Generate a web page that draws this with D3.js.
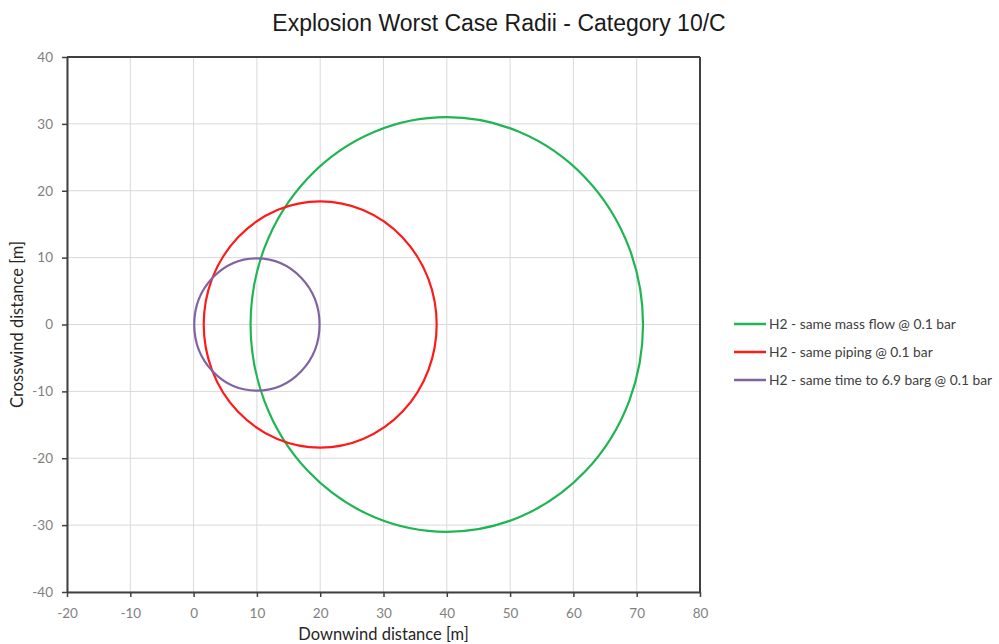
<!DOCTYPE html>
<html>
<head>
<meta charset="utf-8">
<script src="https://cdn.jsdelivr.net/npm/d3@7"></script>
<style>
  body { margin: 0; background: #fff; }
</style>
</head>
<body>
<div id="chart"></div>
<script>
// series: circles given by centre (downwind, crosswind) and radius
var seriesNames = ["H2 - same mass flow @ 0.1 bar", "H2 - same piping @ 0.1 bar", "H2 - same time to 6.9 barg @ 0.1 bar"];
var seriesColors = ["#1fb553", "#ff1a1a", "#8064a2"];
var centerX = [40, 20, 10];
var centerY = [0, 0, 0];
var radii = [31, 18.4, 9.9];
var xTicks = [-20, -10, 0, 10, 20, 30, 40, 50, 60, 70, 80];
var yTicks = [-40, -30, -20, -10, 0, 10, 20, 30, 40];

var W = 999, H = 644;
var margin = {top: 57, right: 299, bottom: 52, left: 67},
    width = W - margin.left - margin.right,
    height = H - margin.top - margin.bottom;

var svg = d3.select("#chart").append("svg")
    .attr("width", W)
    .attr("height", H)
    .style("font-family", "Lato, 'Open Sans', sans-serif");

var g = svg.append("g")
    .attr("transform", "translate(" + margin.left + "," + margin.top + ")");

var x = d3.scaleLinear().domain([-20, 80]).range([0, width]);
var y = d3.scaleLinear().domain([-40, 40]).range([height, 0]);

// gridlines
g.selectAll(".vgrid").data(xTicks).enter().append("line")
    .attr("x1", function(d) { return x(d); })
    .attr("x2", function(d) { return x(d); })
    .attr("y1", 0).attr("y2", height)
    .attr("stroke", "#d9d9d9").attr("stroke-width", 1);
g.selectAll(".hgrid").data(yTicks).enter().append("line")
    .attr("y1", function(d) { return y(d); })
    .attr("y2", function(d) { return y(d); })
    .attr("x1", 0).attr("x2", width)
    .attr("stroke", "#d9d9d9").attr("stroke-width", 1);

// axes
var fmt = function(d) { return String(d); };
var xAxis = g.append("g")
    .attr("transform", "translate(0," + height + ")")
    .call(d3.axisBottom(x).tickValues(xTicks).tickFormat(fmt).tickSize(5).tickSizeOuter(0).tickPadding(11));
var yAxis = g.append("g")
    .call(d3.axisLeft(y).tickValues(yTicks).tickFormat(fmt).tickSize(5).tickSizeOuter(0).tickPadding(9));
[xAxis, yAxis].forEach(function(a) {
  a.select(".domain").attr("stroke", "#404040").attr("stroke-width", 2);
  a.selectAll(".tick line").attr("stroke", "#404040").attr("stroke-width", 1.5);
  a.selectAll(".tick text").attr("fill", "#7f7f7f").style("font-size", "13.5px")
    .style("font-family", "Lato, 'Open Sans', sans-serif");
});

// top and right border
g.append("line").attr("x1", 0).attr("x2", width).attr("y1", 0).attr("y2", 0)
    .attr("stroke", "#404040").attr("stroke-width", 2);
g.append("line").attr("x1", width).attr("x2", width).attr("y1", 0).attr("y2", height)
    .attr("stroke", "#404040").attr("stroke-width", 2);

// circles
g.selectAll(".ring").data(radii).enter().append("ellipse")
    .attr("cx", function(d, i) { return x(centerX[i]); })
    .attr("cy", function(d, i) { return y(centerY[i]); })
    .attr("rx", function(d, i) { return x(centerX[i] + d) - x(centerX[i]); })
    .attr("ry", function(d, i) { return y(centerY[i]) - y(centerY[i] + d); })
    .attr("fill", "none")
    .attr("stroke", function(d, i) { return seriesColors[i]; })
    .attr("stroke-width", 2.2);

// title
svg.append("text")
    .attr("x", 499).attr("y", 31)
    .attr("text-anchor", "middle")
    .style("font-family", "'Liberation Sans', Arial, sans-serif")
    .style("font-size", "23px")
    .attr("fill", "#1a1a1a")
    .text("Explosion Worst Case Radii - Category 10/C");

// axis titles
svg.append("text")
    .attr("x", margin.left + width / 2).attr("y", 640)
    .attr("text-anchor", "middle")
    .style("font-size", "16.5px")
    .attr("fill", "#262626")
    .text("Downwind distance [m]");
svg.append("text")
    .attr("transform", "translate(23," + (margin.top + y(0)) + ") rotate(-90)")
    .attr("text-anchor", "middle")
    .style("font-size", "16.5px")
    .attr("fill", "#262626")
    .text("Crosswind distance [m]");

// legend
var legend = svg.selectAll(".legend").data(seriesNames).enter().append("g")
    .attr("transform", function(d, i) { return "translate(734," + (324 + i * 28) + ")"; });
legend.append("line")
    .attr("x1", 0).attr("x2", 32).attr("y1", 0).attr("y2", 0)
    .attr("stroke", function(d, i) { return seriesColors[i]; })
    .attr("stroke-width", 2.5);
legend.append("text")
    .attr("x", 35).attr("y", 5)
    .style("font-size", "13.8px")
    .attr("fill", "#404040")
    .text(function(d) { return d; });
</script>
</body>
</html>
